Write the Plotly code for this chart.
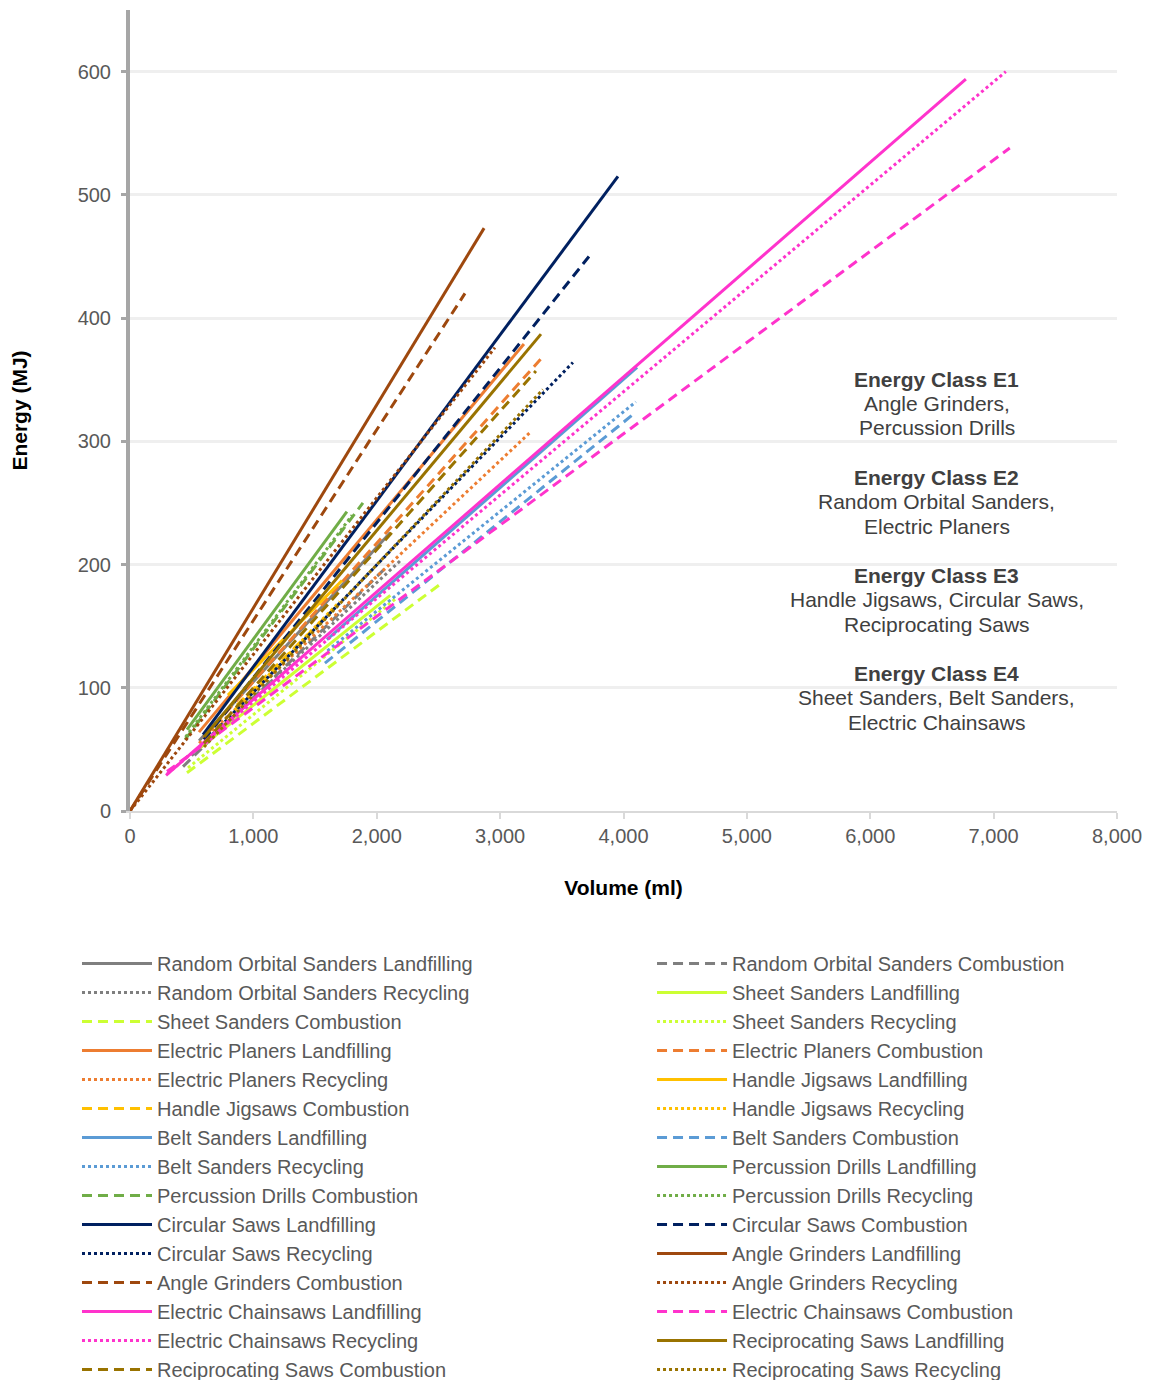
import plotly.graph_objects as go

# ---- data ----
tools = ["Random Orbital Sanders", "Sheet Sanders", "Electric Planers", "Handle Jigsaws",
         "Belt Sanders", "Percussion Drills", "Circular Saws", "Angle Grinders",
         "Electric Chainsaws", "Reciprocating Saws"]
scenarios = ["Landfilling", "Combustion", "Recycling"]

# start / end volume (ml) and energy (MJ) per series, in order tool x scenario
x_start = [560, 430, 500,   567, 462, 470,   559, 600, 560,   794, 867, 850,
           1596, 1580, 1600,  462, 446, 450,   592, 600, 600,   0, 0, 0,
           292, 300, 300,   600, 600, 600]
y_start = [57, 36, 45,   51, 31, 35,   64, 60, 55,   94, 86, 82,
           139, 120, 130,   66, 58, 60,   62, 58, 55,   0, 0, 0,
           29, 32, 30,   60, 55, 52]
x_end = [2110, 2090, 2200,   2110, 2528, 2150,   3193, 3331, 3241,   1718, 1661, 1700,
         4110, 4068, 4100,   1758, 1888, 1800,   3955, 3720, 3590,   2870, 2715, 2958,
         6775, 7131, 7099,   3331, 3290, 3347]
y_end = [226, 199, 204,   175, 185, 172,   379, 367, 307,   187, 165, 170,
         360, 321, 332,   243, 250, 240,   515, 450, 364,   473, 420, 376,
         594, 538, 600,   387, 357, 342]

tool_colors = ["#7F7F7F", "#CCFF33", "#ED7D31", "#FFC000", "#5B9BD5",
               "#70AD47", "#002060", "#9E480E", "#FF33CC", "#997300"]
dash_styles = ["solid", "10px,6px", "3px,3px"]

x_ticks = [0, 1000, 2000, 3000, 4000, 5000, 6000, 7000, 8000]
y_ticks = [0, 100, 200, 300, 400, 500, 600]

class_titles = ["Energy Class E1", "Energy Class E2", "Energy Class E3", "Energy Class E4"]
class_lines = [["Angle Grinders,", "Percussion Drills"],
               ["Random Orbital Sanders,", "Electric Planers"],
               ["Handle Jigsaws, Circular Saws,", "Reciprocating Saws"],
               ["Sheet Sanders, Belt Sanders,", "Electric Chainsaws"]]

fig = go.Figure()
k = 0
for ti, tool in enumerate(tools):
    for si, sc in enumerate(scenarios):
        fig.add_trace(go.Scatter(
            x=[x_start[k], x_end[k]], y=[y_start[k], y_end[k]],
            mode="lines", name=f"{tool} {sc}",
            line=dict(color=tool_colors[ti], width=3, dash=dash_styles[si]),
            legend="legend" if k % 2 == 0 else "legend2",
        ))
        k += 1

font_family = "Liberation Sans, Arial, sans-serif"
legend_font = dict(family=font_family, size=20, color="#595959")

fig.update_layout(
    width=1147, height=1372,
    margin=dict(l=122, r=38, t=2, b=569, autoexpand=False),
    plot_bgcolor="white", paper_bgcolor="white",
    font=dict(family=font_family, size=20, color="#595959"),
    showlegend=True,
    legend=dict(
        orientation="v", x=-0.0537, xanchor="left", y=-0.166, yanchor="top",
        itemwidth=70, font=legend_font, traceorder="normal", tracegroupgap=0,
        bgcolor="rgba(0,0,0,0)",
    ),
    legend2=dict(
        orientation="v", x=0.5289, xanchor="left", y=-0.166, yanchor="top",
        itemwidth=70, font=legend_font, traceorder="normal", tracegroupgap=0,
        bgcolor="rgba(0,0,0,0)",
    ),
    xaxis=dict(
        range=[0, 8000], tickvals=x_ticks, tickformat=",",
        showgrid=False, zeroline=False,
        showline=True, linecolor="#D9D9D9", linewidth=2,
        ticks="outside", ticklen=6, tickcolor="#D9D9D9", tickwidth=2,
        tickfont=dict(size=20, color="#595959"),
        title=dict(text="<b>Volume (ml)</b>", font=dict(size=21, color="#000000"), standoff=34),
    ),
    yaxis=dict(
        range=[0, 650], tickvals=y_ticks,
        showgrid=True, gridcolor="#EFEFEF", gridwidth=3,
        zeroline=False,
        showline=True, linecolor="#A6A6A6", linewidth=4,
        ticks="outside", ticklen=5, tickcolor="#A6A6A6", tickwidth=3,
        ticklabelstandoff=6,
        tickfont=dict(size=20, color="#595959"),
        title=dict(text="<b>Energy (MJ)</b>", font=dict(size=21, color="#000000"), standoff=52),
    ),
)

# white text box behind the energy-class notes (hides the gridlines there)
fig.add_shape(type="rect", xref="paper", yref="paper",
              x0=0.6434, x1=0.9909, y0=0.0824, y1=0.5630,
              fillcolor="white", line=dict(width=0), layer="between")

# energy class notes, one annotation per text line
line_h = 24.5 / 801          # line height in paper units
group_h = 4 * line_h         # block height incl. blank line
y_top = (811 - 379) / 801    # centre of first line
for gi, title in enumerate(class_titles):
    rows = ["<b>" + title + "</b>"] + class_lines[gi]
    for ri, row in enumerate(rows):
        fig.add_annotation(
            xref="paper", yref="paper", x=0.8176,
            y=y_top - gi * group_h - ri * line_h,
            xanchor="center", yanchor="middle", text=row, showarrow=False,
            font=dict(family=font_family, size=21, color="#404040"),
        )

fig.write_html("out.html")
